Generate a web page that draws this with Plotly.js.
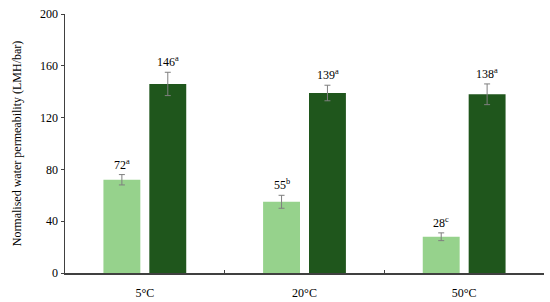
<!DOCTYPE html>
<html>
<head>
<meta charset="utf-8">
<script src="https://cdn.plot.ly/plotly-3.0.1.min.js"></script>
<style>html,body{margin:0;padding:0;background:#fff;}#chart{width:550px;height:302px;}</style>
</head>
<body>
<div id="chart"></div>
<script>
const categories = ['5°C', '20°C', '50°C'];
const lightValues = [72, 55, 28];
const lightErrors = [4, 5, 3];
const lightLetters = ['a', 'b', 'c'];
const darkValues = [146, 139, 138];
const darkErrors = [9, 6, 8];
const darkLetters = ['a', 'a', 'a'];
const yTicks = [0, 40, 80, 120, 160, 200];

const FONT = 'Liberation Serif, DejaVu Serif, serif';
const errStyle = {type: 'data', visible: true, color: '#7f7f7f', thickness: 1, width: 3};

const traces = [
  {type: 'bar', x: categories, y: lightValues, marker: {color: '#96d28c'},
   error_y: Object.assign({array: lightErrors}, errStyle), hoverinfo: 'none'},
  {type: 'bar', x: categories, y: darkValues, marker: {color: '#1f561c'},
   error_y: Object.assign({array: darkErrors}, errStyle), hoverinfo: 'none'}
];

const annotations = [];
categories.forEach((c, i) => {
  annotations.push({x: c, y: lightValues[i] + lightErrors[i], xref: 'x', yref: 'y',
    text: lightValues[i] + '<sup>' + lightLetters[i] + '</sup>', showarrow: false,
    xshift: -23, yanchor: 'bottom', yshift: 1, font: {family: FONT, size: 12, color: '#000'}});
  annotations.push({x: c, y: darkValues[i] + darkErrors[i], xref: 'x', yref: 'y',
    text: darkValues[i] + '<sup>' + darkLetters[i] + '</sup>', showarrow: false,
    xshift: 23, yanchor: 'bottom', yshift: 1, font: {family: FONT, size: 12, color: '#000'}});
});

const layout = {
  width: 550, height: 302,
  margin: {l: 65, r: 6, t: 14, b: 29},
  paper_bgcolor: '#fff', plot_bgcolor: '#fff',
  showlegend: false,
  barmode: 'group', bargap: 0.425, bargroupgap: 0.196,
  font: {family: FONT, size: 12, color: '#000'},
  xaxis: {
    type: 'category', showline: true, linecolor: '#404040', linewidth: 1.5,
    ticks: 'inside', tickson: 'boundaries', ticklen: 3, tickcolor: '#404040',
    ticklabelstandoff: 8,
    showgrid: false, zeroline: false, tickfont: {family: FONT, size: 12}
  },
  yaxis: {
    range: [0, 200], tickvals: yTicks, showline: true, linecolor: '#404040', linewidth: 1.5,
    ticks: 'outside', ticklen: 3, tickcolor: '#404040', showgrid: false, zeroline: false,
    tickfont: {family: FONT, size: 12},
    title: {text: 'Normalised water permeability (LMH/bar)', font: {family: FONT, size: 12}, standoff: 16}
  },
  annotations: annotations
};

Plotly.newPlot('chart', traces, layout, {displayModeBar: false, staticPlot: true});
</script>
</body>
</html>
